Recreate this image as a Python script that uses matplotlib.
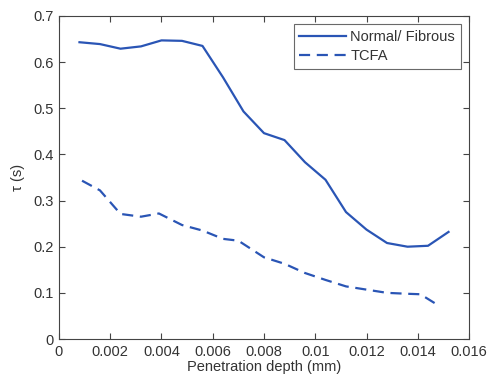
import matplotlib
matplotlib.use('Agg')
import matplotlib.pyplot as plt
import numpy as np

plt.rcParams['font.family'] = ['Liberation Sans', 'DejaVu Sans']

# depth (mm) and time constant tau (s)
depth_normal = [0.0008, 0.0016, 0.0024, 0.0032, 0.0040, 0.0048, 0.0056, 0.0064, 0.0072, 0.0080,
                0.0088, 0.0096, 0.0104, 0.0112, 0.0120, 0.0128, 0.0136, 0.0144, 0.0152]
tau_normal = [0.643, 0.639, 0.629, 0.634, 0.647, 0.646, 0.635, 0.567, 0.493, 0.446,
              0.431, 0.383, 0.345, 0.275, 0.237, 0.208, 0.200, 0.202, 0.232]

depth_tcfa = [0.0009, 0.0016, 0.0024, 0.0032, 0.0039, 0.0048, 0.0056, 0.0064, 0.0070, 0.0080,
              0.0088, 0.0096, 0.0104, 0.0112, 0.0120, 0.0128, 0.0136, 0.0141, 0.0148]
tau_tcfa = [0.343, 0.322, 0.271, 0.265, 0.272, 0.247, 0.235, 0.217, 0.213, 0.177,
            0.163, 0.143, 0.128, 0.114, 0.107, 0.100, 0.098, 0.097, 0.073]

blue = '#2a55b5'
txt = '#333333'

fig = plt.figure(figsize=(4.87, 3.81), dpi=100)
ax = fig.add_axes([0.1211, 0.1102, 0.842, 0.848])

ax.plot(depth_normal, tau_normal, color=blue, linewidth=1.6, label='Normal/ Fibrous')
ax.plot(depth_tcfa, tau_tcfa, color=blue, linewidth=1.6, linestyle='--', dashes=(5, 3), label='TCFA')

ax.set_xlim(0, 0.016)
ax.set_ylim(0, 0.7)
ax.set_xticks(np.arange(0, 0.0161, 0.002))
ax.set_xticklabels(['0', '0.002', '0.004', '0.006', '0.008', '0.01', '0.012', '0.014', '0.016'])
ax.set_yticks(np.arange(0, 0.71, 0.1))
ax.set_yticklabels(['0', '0.1', '0.2', '0.3', '0.4', '0.5', '0.6', '0.7'])
ax.tick_params(direction='in', top=True, right=True, length=4, width=0.8,
               labelsize=10.5, colors='#444444', labelcolor=txt, pad=4)
for s in ax.spines.values():
    s.set_color('#444444')
    s.set_linewidth(0.8)

ax.set_xlabel('Penetration depth (mm)', fontsize=10.5, color=txt, labelpad=1)
ax.set_ylabel('τ (s)', fontsize=10.5, color=txt, labelpad=6)

leg = ax.legend(loc='upper right', fontsize=10.5, frameon=True, fancybox=False,
                handlelength=3.2, handletextpad=0.3, borderaxespad=0.55,
                labelspacing=0.35, borderpad=0.4)
leg.get_frame().set_edgecolor('#444444')
leg.get_frame().set_linewidth(0.8)
for t in leg.get_texts():
    t.set_color(txt)

fig.savefig('out.png', dpi=100)
